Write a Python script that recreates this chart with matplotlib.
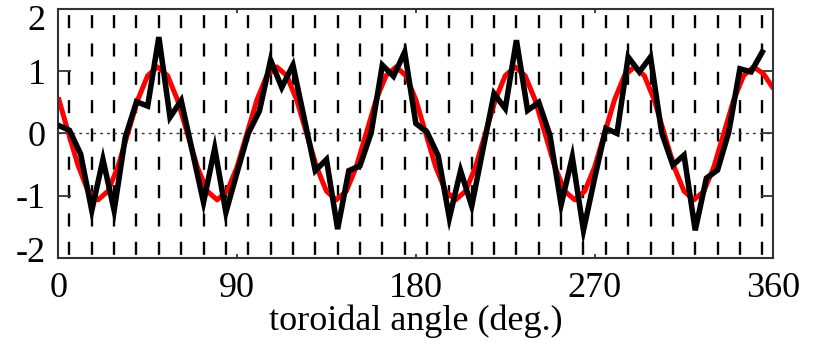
import numpy as np
import matplotlib
matplotlib.use("Agg")
import matplotlib.pyplot as plt
from matplotlib.transforms import ScaledTranslation

plt.rcParams['font.family'] = ['Liberation Serif', 'DejaVu Serif']
plt.rcParams['lines.scale_dashes'] = False

# probe spacing (deg) and measured signal (black)
probe_step = 5.625
measured = [0.13, 0.05, -0.33, -1.24, -0.42, -1.24, -0.06, 0.51, 0.44, 1.55,
            0.26, 0.53, -0.29, -1.11, -0.24, -1.27, -0.63, 0.00, 0.36, 1.18,
            0.74, 1.10, 0.25, -0.60, -0.42, -1.54, -0.60, -0.52, 0.01, 1.10,
            0.92, 1.31, 0.16, 0.02, -0.36, -1.36, -0.60, -1.17, -0.26, 0.64,
            0.40, 1.50, 0.37, 0.50, -0.03, -1.15, -0.38, -1.56, -0.72, 0.08,
            0.00, 1.23, 0.99, 1.23, 0.01, -0.51, -0.35, -1.56, -0.72, -0.59,
            0.02, 1.04, 0.99, 1.31]
measured_angle = [probe_step * i for i in range(len(measured))]

# fitted curve (red), sampled every 5 deg
fit_step = 5.0
fitted = [0.58, 0.02, -0.52, -0.93, -1.07, -0.93, -0.54, 0.00, 0.54, 0.93, 1.07, 0.93,
          0.54, 0.00, -0.54, -0.93, -1.07, -0.93, -0.54, 0.00, 0.54, 0.93, 1.07, 0.93,
          0.54, 0.00, -0.54, -0.93, -1.07, -0.93, -0.54, 0.00, 0.54, 0.93, 1.07, 0.93,
          0.54, 0.00, -0.54, -0.93, -1.07, -0.93, -0.54, 0.00, 0.54, 0.93, 1.07, 0.93,
          0.54, 0.00, -0.54, -0.93, -1.07, -0.93, -0.54, 0.00, 0.54, 0.93, 1.07, 0.93,
          0.54, 0.00, -0.54, -0.93, -1.07, -0.93, -0.54, 0.00, 0.54, 0.93, 1.07, 0.96,
          0.72]
fitted_angle = [fit_step * i for i in range(len(fitted))]

# probe positions (dashed verticals)
probe_angle = [probe_step * (2 * i + 1) for i in range(32)]

xticks = [0, 90, 180, 270, 360]
yticks = [-2, -1, 0, 1, 2]
ytick_labels = ['-2', '-1', '0', '1', '2']

fig = plt.figure(figsize=(8.15, 3.52), dpi=100)
ax = fig.add_axes([0.0715, 0.268, 0.8775, 0.706])

for xp in probe_angle:
    ax.plot([xp, xp], [2, -2], color='black', lw=1.7,
            linestyle=(16.0, (9.4, 11.0)), zorder=1)
ax.axhline(0, color='#333333', lw=1.0, linestyle=(0, (2.0, 3.0)), zorder=1)

ax.plot(fitted_angle, fitted, color='#ff0000', lw=3.6, zorder=2,
        solid_joinstyle='round', solid_capstyle='butt')
ax.plot(measured_angle, measured, color='black', lw=4.0, zorder=3,
        solid_joinstyle='miter')

ax.set_xlim(0, 360)
ax.set_ylim(-2, 2)
ax.set_xticks(xticks)
ax.set_xticklabels([str(t) for t in xticks])
ax.set_yticks(yticks)
ax.set_yticklabels(ytick_labels)
ax.tick_params(axis='y', direction='in', length=9, width=1.3, left=True, right=True,
               labelsize=26, pad=9, color='#333333')
ax.tick_params(axis='x', direction='in', length=3, width=1.3, top=True, bottom=True,
               labelsize=26, pad=10, color='#333333')
for s in ax.spines.values():
    s.set_linewidth(1.5)
    s.set_color('#333333')
ax.set_xlabel('toroidal angle (deg.)', fontsize=26, labelpad=0)

# pull the extreme y labels slightly inward, as in the reference
labs = ax.get_yticklabels()
labs[0].set_transform(labs[0].get_transform() + ScaledTranslation(0, 8 / 100, fig.dpi_scale_trans))
labs[-1].set_transform(labs[-1].get_transform() + ScaledTranslation(0, -8 / 100, fig.dpi_scale_trans))

fig.savefig('out.png', dpi=100)
